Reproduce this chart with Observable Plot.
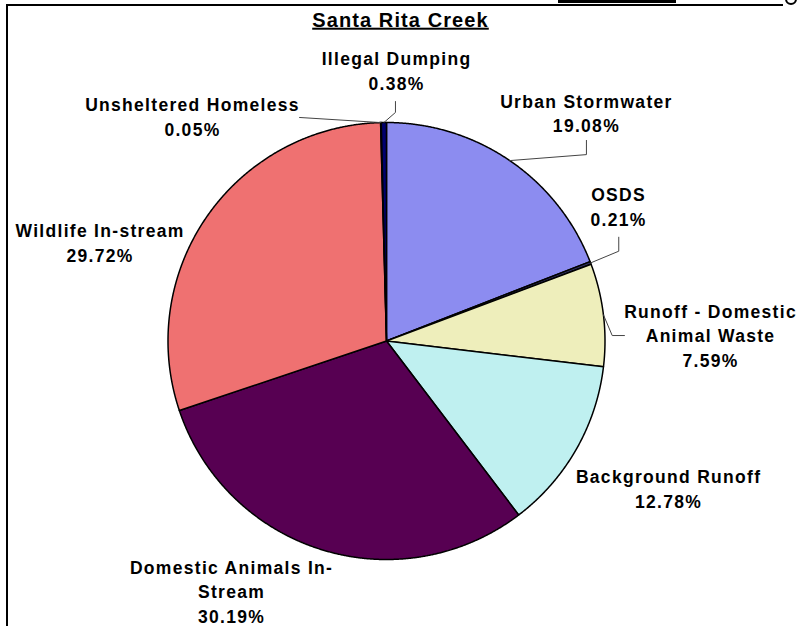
<!DOCTYPE html>
<html><head><meta charset="utf-8">
<script src="https://cdn.jsdelivr.net/npm/d3@7"></script>
<script src="https://cdn.jsdelivr.net/npm/@observablehq/plot@0.6"></script>
<style>
html,body{margin:0;padding:0;background:#fff;}
#wrap{position:relative;width:798px;height:626px;overflow:hidden;background:#fff;}
#wrap svg{position:absolute;left:0;top:0;}
.deco{position:absolute;background:#000;}
#gfrag{position:absolute;left:785px;top:-7px;width:8px;height:8px;border:2.5px solid #000;border-radius:50%;background:transparent;}
</style></head><body><div id="wrap">
<div class="deco" style="left:6px;top:4px;width:777px;height:2px"></div>
<div class="deco" style="left:6px;top:4px;width:2px;height:622px"></div>
<div class="deco" style="left:558px;top:0px;width:118px;height:3px"></div>
<div id="gfrag"></div>
</div>
<script>
// ---- data ----
const titleText = "Santa Rita Creek";
const categories = ["Urban Stormwater","OSDS","Runoff - Domestic Animal Waste","Background Runoff","Domestic Animals In-Stream","Wildlife In-stream","Unsheltered Homeless","Illegal Dumping"];
const labelNames = ["Urban Stormwater","OSDS","Runoff - Domestic\nAnimal Waste","Background Runoff","Domestic Animals In-\nStream","Wildlife In-stream","Unsheltered Homeless","Illegal Dumping"];
const percents = [19.08,0.21,7.59,12.78,30.19,29.72,0.05,0.38];
const colors = ["#8c8cf0","#303060","#eeeebb","#bff0f0","#570052","#ef7171","#3a78d0","#00006e"];

// ---- layout (radius units, centre of pie = 0,0) ----
const labelPos = [[0.915,1.048],[1.062,0.620],[1.483,0.030],[1.291,-0.670],[-0.709,-1.142],[-1.311,0.456],[-0.888,1.030],[0.046,1.242]];
const leaderElbows = [
  [[0.915,0.853],[0.915,0.918]],
  [[1.063,0.411],[1.063,0.475]],
  [[1.033,0.025],[1.089,0.025]],
  [],
  [],
  [],
  [[-0.398,1.023]],
  [[0.041,1.046],[0.041,1.096]]
];

const rows = categories.map((c,i)=>({cat:c, pct:percents[i], name:labelNames[i], pos:labelPos[i], elbows:leaderElbows[i]}));
const arcs = d3.pie().sort(null).value(d=>d.pct).startAngle(0).endAngle(2*Math.PI)(rows);

// slice outlines
const slicePts = [];
arcs.forEach(a=>{
  slicePts.push({cat:a.data.cat, x:0, y:0});
  const n = Math.max(2, Math.ceil((a.endAngle-a.startAngle)/0.004));
  for(let k=0;k<=n;k++){
    const t = a.startAngle + (a.endAngle-a.startAngle)*k/n;
    slicePts.push({cat:a.data.cat, x:Math.sin(t), y:Math.cos(t)});
  }
});

// leader lines
const leaderPts = [];
arcs.forEach(a=>{
  if(!a.data.elbows.length) return;
  const m = (a.startAngle+a.endAngle)/2;
  leaderPts.push({cat:a.data.cat, x:Math.sin(m), y:Math.cos(m)});
  a.data.elbows.forEach(p=>leaderPts.push({cat:a.data.cat, x:p[0], y:p[1]}));
});

const labels = rows.map(r=>({text:r.name+"\n"+r.pct.toFixed(2)+"%", x:r.pos[0], y:r.pos[1]}));

const chart = Plot.plot({
  width:798, height:626,
  marginTop:0, marginBottom:0, marginLeft:0, marginRight:0,
  style:{background:"transparent", fontFamily:"'Liberation Sans', Arial, sans-serif"},
  x:{domain:[-1,1], range:[167.5,604.5], axis:null},
  y:{domain:[-1,1], range:[559,122], axis:null},
  color:{domain:categories, range:colors},
  marks:[
    Plot.line(slicePts,{x:"x", y:"y", z:"cat", fill:"cat", stroke:"#000", strokeWidth:1.5, curve:"linear-closed", strokeLinejoin:"round"}),
    Plot.line(leaderPts,{x:"x", y:"y", z:"cat", stroke:"#444", strokeWidth:1}),
    Plot.text(labels,{x:"x", y:"y", text:"text", textAnchor:"middle", lineAnchor:"middle", lineHeight:1.42, fontSize:17.5, fontWeight:"bold", fill:"#000"}),
    Plot.text([titleText],{frameAnchor:"top", text:d=>d, dy:12, dx:1, fontSize:20, fontWeight:"bold", fill:"#000", className:"ttl"})
  ]
});
chart.querySelectorAll("text").forEach(t=>t.setAttribute("letter-spacing","1.3"));
chart.querySelectorAll(".ttl text").forEach(t=>{t.setAttribute("letter-spacing","1.1");t.style.textDecoration="underline";});
document.getElementById("wrap").appendChild(chart);
</script>
</body></html>
